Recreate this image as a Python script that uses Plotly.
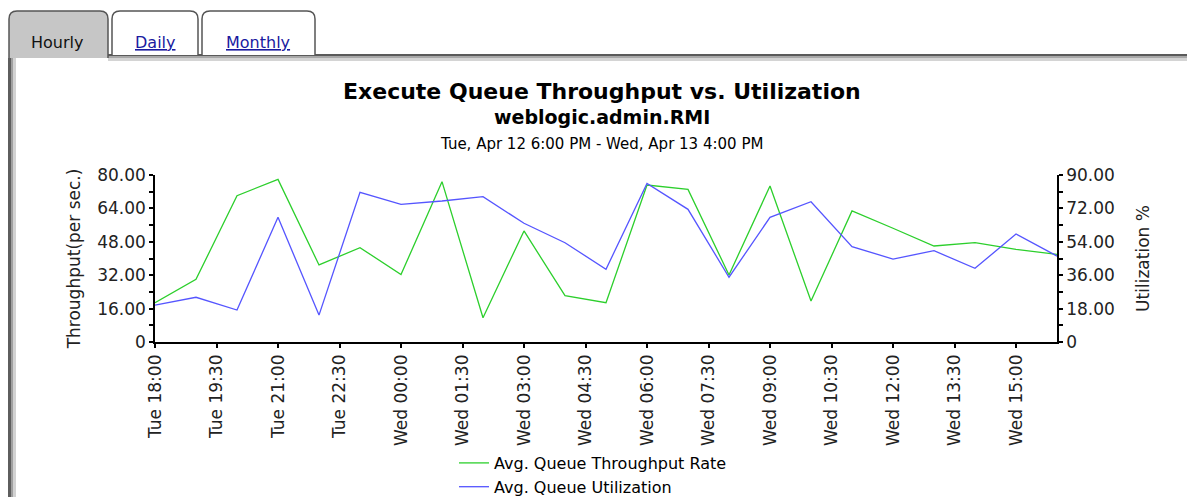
import plotly.graph_objects as go

# ---------------- data ----------------
times = [
    "2005-04-12 18:00", "2005-04-12 19:00", "2005-04-12 20:00", "2005-04-12 21:00",
    "2005-04-12 22:00", "2005-04-12 23:00", "2005-04-13 00:00", "2005-04-13 01:00",
    "2005-04-13 02:00", "2005-04-13 03:00", "2005-04-13 04:00", "2005-04-13 05:00",
    "2005-04-13 06:00", "2005-04-13 07:00", "2005-04-13 08:00", "2005-04-13 09:00",
    "2005-04-13 10:00", "2005-04-13 11:00", "2005-04-13 12:00", "2005-04-13 13:00",
    "2005-04-13 14:00", "2005-04-13 15:00", "2005-04-13 16:00",
]
throughput = [18.8, 30.0, 70.1, 77.9, 36.9, 45.2, 32.3, 76.8, 11.6, 53.2, 22.2, 18.8,
              75.2, 73.1, 32.1, 74.7, 19.6, 62.8, 54.5, 46.0, 47.6, 44.4, 42.0]
utilization = [19.9, 24.1, 17.2, 67.2, 14.5, 80.7, 74.2, 76.0, 78.3, 64.0, 53.5, 39.2,
               85.5, 71.5, 34.9, 67.2, 75.6, 51.4, 44.7, 49.2, 39.7, 58.2, 46.3]

left_ticks = [0, 8, 16, 24, 32, 40, 48, 56, 64, 72, 80]
left_labels = ["0", "", "16.00", "", "32.00", "", "48.00", "", "64.00", "", "80.00"]
right_ticks = [0, 9, 18, 27, 36, 45, 54, 63, 72, 81, 90]
right_labels = ["0", "", "18.00", "", "36.00", "", "54.00", "", "72.00", "", "90.00"]

series_names = ["Avg. Queue Throughput Rate", "Avg. Queue Utilization"]
title = "Execute Queue Throughput vs. Utilization"
subtitle = "weblogic.admin.RMI"
date_range = "Tue, Apr 12 6:00 PM - Wed, Apr 13 4:00 PM"
tabs = ["Hourly", "Daily", "Monthly"]

# ---------------- geometry ----------------
W, H = 1187, 497
L, R, T, B = 155, 1057, 175, 342
PW, PH = R - L, B - T
FONT = "DejaVu Sans, Liberation Sans, Arial, sans-serif"
GREEN = "#2ccf2c"
BLUE = "#5555ff"


def px(x):
    return (x - L) / PW


def py(y):
    return (B - y) / PH


fig = go.Figure()
fig.add_trace(go.Scatter(x=times, y=throughput, name=series_names[0], mode="lines",
                         line=dict(color=GREEN, width=1.3), legendgroup="g1", yaxis="y"))
fig.add_trace(go.Scatter(x=times, y=utilization, name=series_names[1], mode="lines",
                         line=dict(color=BLUE, width=1.3), legendgroup="g2", yaxis="y2"))

shapes = []


def tab_path(x0, x1, y0, y1, r=8):
    return (f"M {px(x0)},{py(y1)} L {px(x0)},{py(y0 + r)} "
            f"Q {px(x0)},{py(y0)} {px(x0 + r)},{py(y0)} "
            f"L {px(x1 - r)},{py(y0)} Q {px(x1)},{py(y0)} {px(x1)},{py(y0 + r)} "
            f"L {px(x1)},{py(y1)}")


def rect(x0, y0, x1, y1, color):
    shapes.append(dict(type="rect", xref="paper", yref="paper", layer="below",
                       x0=px(x0), x1=px(x1), y0=py(y1), y1=py(y0),
                       fillcolor=color, line=dict(width=0)))


rect(108, 54, 1190, 56, "#5a5a5a")
rect(108, 56, 1190, 58.5, "#a8a8a8")
rect(108, 58.5, 1190, 61, "#d4d4d4")
shapes.append(dict(type="path", xref="paper", yref="paper", layer="below",
                   path=tab_path(9, 108, 11, 58), fillcolor="#c6c6c6",
                   line=dict(color="#555555", width=1.5)))
shapes.append(dict(type="path", xref="paper", yref="paper", layer="below",
                   path=tab_path(112, 198, 11, 55), fillcolor="#ffffff",
                   line=dict(color="#555555", width=1.5)))
shapes.append(dict(type="path", xref="paper", yref="paper", layer="below",
                   path=tab_path(202, 315, 11, 55), fillcolor="#ffffff",
                   line=dict(color="#555555", width=1.5)))
rect(8, 58, 11, 500, "#5e5e5e")
rect(11, 58, 13, 500, "#a0a0a0")
rect(13, 58, 16, 500, "#d2d2d2")

annotations = [
    dict(text=tabs[0], x=px(57), y=py(42), font=dict(size=16, color="#111111", family=FONT)),
    dict(text=f"<u>{tabs[1]}</u>", x=px(155), y=py(42), font=dict(size=16, color="#1a1aa0", family=FONT)),
    dict(text=f"<u>{tabs[2]}</u>", x=px(258), y=py(42), font=dict(size=16, color="#1a1aa0", family=FONT)),
    dict(text=f"<b>{title}</b>", x=px(602), y=py(91), font=dict(size=22, color="#000000", family=FONT)),
    dict(text=f"<b>{subtitle}</b>", x=px(602), y=py(117), font=dict(size=19, color="#000000", family=FONT)),
    dict(text=date_range, x=px(601), y=py(144), font=dict(size=15, color="#000000", family=FONT)),
]
for a in annotations:
    a.update(xref="paper", yref="paper", showarrow=False, xanchor="center", yanchor="middle")

axis_common = dict(showgrid=False, zeroline=False, showline=True, linecolor="#000000",
                   linewidth=1.5, ticks="outside", ticklen=4, tickcolor="#000000",
                   tickwidth=1.5, tickfont=dict(family=FONT, size=17, color="#222222"))

fig.update_layout(
    width=W, height=H,
    margin=dict(l=L, r=W - R, t=T, b=H - B, autoexpand=False),
    paper_bgcolor="#ffffff", plot_bgcolor="#ffffff",
    shapes=shapes, annotations=annotations,
    showlegend=True,
    legend=dict(x=px(454), y=py(446), xanchor="left", yanchor="top",
                font=dict(family=FONT, size=16, color="#000000"),
                bgcolor="rgba(0,0,0,0)", tracegroupgap=20, traceorder="normal"),
    xaxis=dict(**axis_common, type="date", range=[times[0], times[-1]],
               tick0=times[0], dtick=5400000, tickformat="%a %H:%M", tickangle=-90),
    yaxis=dict(**axis_common, range=[0, 80], tickvals=left_ticks, ticktext=left_labels,
               title=dict(text="Throughput(per sec.)", font=dict(family=FONT, size=17, color="#222222"),
                          standoff=12)),
    yaxis2=dict(**axis_common, range=[0, 90], tickvals=right_ticks, ticktext=right_labels,
                overlaying="y", side="right",
                title=dict(text="Utilization %", font=dict(family=FONT, size=17, color="#222222"),
                           standoff=23)),
)

fig.write_html("out.html", config={"displayModeBar": False},
               post_script="document.body.style.margin='0px';document.body.style.overflow='hidden';")
